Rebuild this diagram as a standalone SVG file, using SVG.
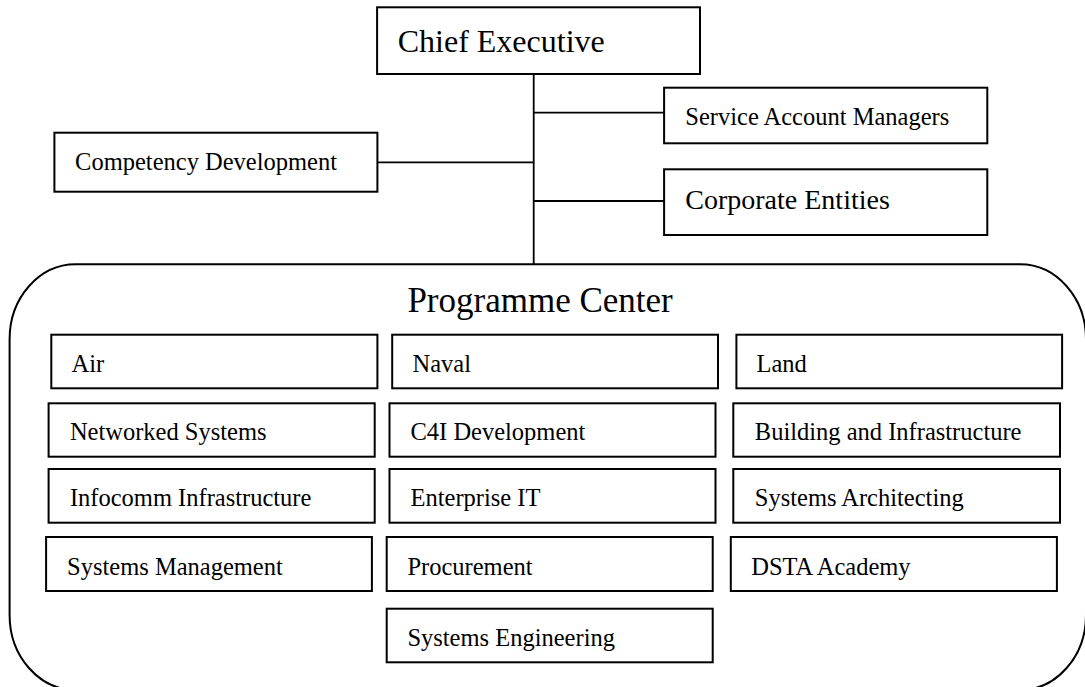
<svg xmlns="http://www.w3.org/2000/svg" width="1085" height="687" viewBox="0 0 1085 687">
<style>
.box{fill:#fff;stroke:#000;stroke-width:2}
.t{font-family:"Liberation Serif","Times New Roman",serif;fill:#000;font-size:24.5px}
.c{stroke:#000;stroke-width:1.8;fill:none}
</style>
<rect width="1085" height="687" fill="#fff"/>
<g id="connectors">
<line class="c" x1="533.7" y1="74" x2="533.7" y2="264.3"/>
<line class="c" x1="377.4" y1="162.3" x2="533.7" y2="162.3"/>
<line class="c" x1="533.7" y1="112.7" x2="664.1" y2="112.7"/>
<line class="c" x1="533.7" y1="201" x2="664.1" y2="201"/>
</g>
<g id="chief"><rect class="box" x="377.1" y="7.3" width="322.9" height="66.7"/><text class="t" x="397.7" y="52" style="font-size:32px">Chief Executive</text></g>
<g id="competency"><rect class="box" x="54.4" y="132.7" width="323" height="59"/><text class="t" x="75.1" y="170">Competency Development</text></g>
<g id="sam"><rect class="box" x="664.1" y="87.7" width="323.2" height="55.6"/><text class="t" x="685.3" y="125">Service Account Managers</text></g>
<g id="corporate"><rect class="box" x="664.1" y="169.3" width="323.2" height="65.7"/><text class="t" x="685.3" y="209.3" style="font-size:28px">Corporate Entities</text></g>
<g id="programme">
<rect class="box" x="9.6" y="264.3" width="1076.4" height="425.7" rx="66" ry="75"/>
<text class="t" x="407.4" y="311.7" style="font-size:35px">Programme Center</text>
</g>
<g id="air"><rect class="box" x="51.3" y="334.7" width="326.1" height="53.6"/><text class="t" x="71.6" y="371.7">Air</text></g>
<g id="naval"><rect class="box" x="392.2" y="334.7" width="325.8" height="53.6"/><text class="t" x="412.5" y="371.7">Naval</text></g>
<g id="land"><rect class="box" x="736.4" y="334.7" width="325.7" height="53.6"/><text class="t" x="756.5" y="371.7">Land</text></g>
<g id="networked"><rect class="box" x="48.6" y="403.3" width="326.1" height="53.4"/><text class="t" x="69.9" y="440">Networked Systems</text></g>
<g id="c4i"><rect class="box" x="389.5" y="403.3" width="326" height="53.4"/><text class="t" x="410.5" y="440">C4I Development</text></g>
<g id="building"><rect class="box" x="733.3" y="403.3" width="326.7" height="53.4"/><text class="t" x="754.8" y="440">Building and Infrastructure</text></g>
<g id="infocomm"><rect class="box" x="48.6" y="469" width="326.1" height="53.7"/><text class="t" x="69.9" y="505.7">Infocomm Infrastructure</text></g>
<g id="enterprise"><rect class="box" x="389.5" y="469" width="326" height="53.7"/><text class="t" x="410.5" y="505.7">Enterprise IT</text></g>
<g id="architecting"><rect class="box" x="733.3" y="469" width="326.7" height="53.7"/><text class="t" x="754.8" y="505.7">Systems Architecting</text></g>
<g id="sysmgmt"><rect class="box" x="46.1" y="537" width="325.8" height="54"/><text class="t" x="67.1" y="575">Systems Management</text></g>
<g id="procurement"><rect class="box" x="386.7" y="537" width="326" height="54"/><text class="t" x="407.4" y="575">Procurement</text></g>
<g id="dsta"><rect class="box" x="730.8" y="537" width="326.1" height="54"/><text class="t" x="751.3" y="575">DSTA Academy</text></g>
<g id="syseng"><rect class="box" x="386.7" y="608.7" width="326" height="53.6"/><text class="t" x="407.4" y="646">Systems Engineering</text></g>
</svg>
